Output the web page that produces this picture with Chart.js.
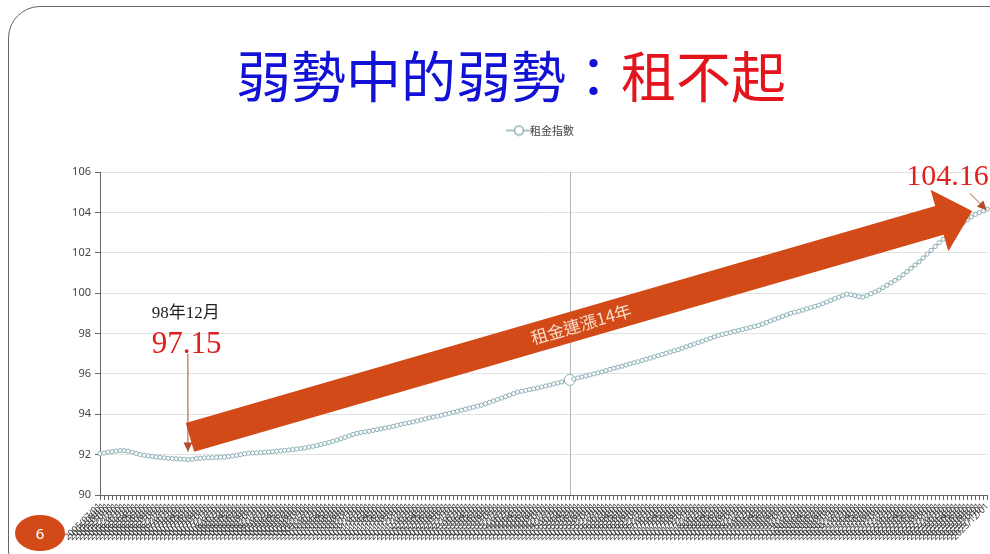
<!DOCTYPE html>
<html>
<head>
<meta charset="utf-8">
<script src="https://cdn.jsdelivr.net/npm/chart.js@4.4.0/dist/chart.umd.min.js"></script>
<style>
  html, body { margin: 0; padding: 0; background: #fff; width: 990px; height: 554px; overflow: hidden; }
  #slide { position: relative; width: 990px; height: 554px; overflow: hidden; }
  #frame { position: absolute; left: 8px; top: 6px; width: 1010px; height: 575px; border: 1px solid #666; border-radius: 32px; }
  #title { position: absolute; left: 236px; top: 42px; font-family: "Noto Sans CJK TC"; font-size: 55px; line-height: 62px; white-space: nowrap; }
  .blue { color: #1212d6; }
  .red { color: #e3141c; }
  #wrap { position: absolute; left: 0; top: 112px; }
  #num { position: absolute; left: 15px; top: 515px; width: 50px; height: 36px; border-radius: 50%; background: #d24a18; color: #fff; font: 15px "Noto Sans"; text-align: center; line-height: 36px; }
</style>
</head>
<body>
<div id="slide">
  <div id="frame"></div>
  <div id="title"><span class="blue">弱勢中的弱勢：</span><span class="red">租不起</span></div>
  <div id="wrap"><canvas id="grafica" width="996" height="442"></canvas></div>
  <div id="num">6</div>
</div>
<script>
// 月份區間 (類別軸)
const firstMonth = [2005, 7];
const lastMonth = [2023, 12];
const meses = [];
for (let y = firstMonth[0], m = firstMonth[1]; y < lastMonth[0] || (y === lastMonth[0] && m <= lastMonth[1]); m++) {
  if (m > 12) { m = 1; y++; }
  meses.push(y + "/" + String(m).padStart(2, "0") + "/01");
}

// 租金指數
const indiceAlquiler = [
  92.05, 92.08, 92.12, 92.15, 92.18, 92.20, 92.20, 92.17, 92.12, 92.06,
  92.00, 91.97, 91.94, 91.91, 91.88, 91.86, 91.84, 91.82, 91.81, 91.79,
  91.78, 91.77, 91.75, 91.77, 91.80, 91.82, 91.84, 91.85, 91.85, 91.86,
  91.87, 91.88, 91.90, 91.93, 91.96, 92.00, 92.04, 92.07, 92.08, 92.09,
  92.10, 92.12, 92.13, 92.15, 92.17, 92.19, 92.21, 92.23, 92.25, 92.28,
  92.30, 92.33, 92.37, 92.41, 92.45, 92.50, 92.55, 92.60, 92.66, 92.72,
  92.79, 92.86, 92.93, 93.00, 93.05, 93.10, 93.13, 93.16, 93.20, 93.24,
  93.28, 93.32, 93.36, 93.40, 93.45, 93.50, 93.54, 93.58, 93.62, 93.67,
  93.72, 93.77, 93.82, 93.86, 93.90, 93.95, 94.00, 94.05, 94.10, 94.15,
  94.20, 94.25, 94.30, 94.35, 94.40, 94.45, 94.52, 94.59, 94.66, 94.73,
  94.80, 94.87, 94.95, 95.02, 95.10, 95.14, 95.18, 95.22, 95.26, 95.30,
  95.35, 95.40, 95.45, 95.50, 95.55, 95.60, 95.65, 95.70, 95.75, 95.80,
  95.85, 95.90, 95.95, 96.00, 96.05, 96.10, 96.16, 96.22, 96.28, 96.33,
  96.38, 96.44, 96.50, 96.55, 96.60, 96.66, 96.72, 96.78, 96.84, 96.90,
  96.96, 97.02, 97.08, 97.14, 97.20, 97.27, 97.34, 97.41, 97.48, 97.55,
  97.62, 97.69, 97.76, 97.83, 97.90, 97.95, 98.00, 98.05, 98.10, 98.15,
  98.20, 98.25, 98.30, 98.35, 98.40, 98.47, 98.55, 98.62, 98.70, 98.77,
  98.85, 98.92, 99.00, 99.05, 99.10, 99.16, 99.22, 99.28, 99.34, 99.40,
  99.48, 99.56, 99.64, 99.72, 99.80, 99.88, 99.95, 99.92, 99.88, 99.83,
  99.80, 99.88, 99.97, 100.06, 100.15, 100.27, 100.39, 100.51, 100.63, 100.75,
  100.91, 101.07, 101.23, 101.39, 101.55, 101.74, 101.93, 102.12, 102.31, 102.50,
  102.67, 102.84, 103.01, 103.18, 103.35, 103.49, 103.63, 103.77, 103.90, 103.99,
  104.08, 104.16
];

const yMin = 90, yMax = 106, yStep = 2;
const pointerIndex = 117;

// 註解 (以類別索引與指數值定位)
const arrowFrom = [22.4, 92.85];
const arrowTo = [217.2, 104.07];
const arrowText = "租金連漲14年";
const notes = [
  { text: "98年12月", at: [12.9, 98.77], font: '17px "Liberation Serif", "Noto Sans CJK TC"', color: "#222" },
  { text: "97.15", at: [12.9, 97.03], font: '31px "Liberation Serif"', color: "#e0201e" },
  { text: "104.16", at: [200.8, 105.35], font: '30px "Liberation Serif"', color: "#e0201e" }
];
const pointers = [
  { from: [21.9, 97.0], to: [21.9, 92.15] },
  { from: [216.6, 104.95], to: [220.8, 104.12] }
];

const lineColor = "#89afb5";

// 圖例圖示: 線 + 空心圓
const legendIcon = document.createElement("canvas");
legendIcon.width = 26; legendIcon.height = 12;
(function () {
  const c = legendIcon.getContext("2d");
  c.strokeStyle = lineColor; c.lineWidth = 1.5;
  c.beginPath(); c.moveTo(0, 6); c.lineTo(26, 6); c.stroke();
  c.fillStyle = "#fff";
  c.beginPath(); c.arc(13, 6, 4.5, 0, Math.PI * 2); c.fill(); c.stroke();
})();

const legendGap = {
  id: "legendGap",
  beforeInit(chart) {
    const fit = chart.legend.fit;
    chart.legend.fit = function () {
      fit.bind(chart.legend)();
      this.height += 26;
    };
  }
};

function drawHead(ctx, x0, y0, x1, y1, size) {
  const a = Math.atan2(y1 - y0, x1 - x0);
  ctx.beginPath();
  ctx.moveTo(x1, y1);
  ctx.lineTo(x1 - size * Math.cos(a) + size * 0.5 * Math.sin(a), y1 - size * Math.sin(a) - size * 0.5 * Math.cos(a));
  ctx.lineTo(x1 - size * Math.cos(a) - size * 0.5 * Math.sin(a), y1 - size * Math.sin(a) + size * 0.5 * Math.cos(a));
  ctx.closePath();
  ctx.fill();
}

const overlay = {
  id: "overlay",
  beforeDatasetsDraw(chart) {
    const { ctx, chartArea: a, scales: { x } } = chart;
    const px = Math.round(x.getPixelForValue(pointerIndex)) + 0.5;
    ctx.save();
    ctx.strokeStyle = "#b5b5b5";
    ctx.lineWidth = 1;
    ctx.beginPath(); ctx.moveTo(px, a.top); ctx.lineTo(px, a.bottom); ctx.stroke();
    ctx.restore();
  },
  afterDatasetsDraw(chart) {
    const { ctx, scales: { x, y } } = chart;
    const P = (p) => [x.getPixelForValue(p[0]), y.getPixelForValue(p[1])];

    // 大箭頭
    const [tx, ty] = P(arrowFrom);
    const [hx, hy] = P(arrowTo);
    const len = Math.hypot(hx - tx, hy - ty);
    ctx.save();
    ctx.translate(tx, ty);
    ctx.rotate(Math.atan2(hy - ty, hx - tx));
    ctx.fillStyle = "#d24a18";
    ctx.beginPath();
    ctx.moveTo(0, -15);
    ctx.lineTo(len - 34, -15);
    ctx.lineTo(len - 34, -32);
    ctx.lineTo(len, 0);
    ctx.lineTo(len - 34, 32);
    ctx.lineTo(len - 34, 15);
    ctx.lineTo(0, 15);
    ctx.closePath();
    ctx.fill();
    ctx.fillStyle = "#f9dccb";
    ctx.font = '17px "Noto Sans CJK TC"';
    ctx.textAlign = "center";
    ctx.textBaseline = "middle";
    ctx.fillText(arrowText, len * 0.5, 0);
    ctx.restore();

    // 細箭頭
    ctx.save();
    ctx.strokeStyle = "#b54a2c";
    ctx.fillStyle = "#b54a2c";
    ctx.lineWidth = 1;
    pointers.forEach((p) => {
      const [x0, y0] = P(p.from);
      const [x1, y1] = P(p.to);
      ctx.beginPath(); ctx.moveTo(x0, y0); ctx.lineTo(x1, y1); ctx.stroke();
      drawHead(ctx, x0, y0, x1, y1, 9);
    });
    ctx.restore();

    // 文字
    ctx.save();
    ctx.textAlign = "left";
    ctx.textBaseline = "alphabetic";
    notes.forEach((n) => {
      const [nx, ny] = P(n.at);
      ctx.font = n.font;
      ctx.fillStyle = n.color;
      ctx.fillText(n.text, nx, ny);
    });
    ctx.restore();
  }
};

const $grafica = document.querySelector("#grafica");

new Chart($grafica, {
  type: "line",
  data: {
    labels: meses,
    datasets: [{
      label: "租金指數",
      data: indiceAlquiler,
      borderColor: lineColor,
      borderWidth: 1.5,
      backgroundColor: "#fff",
      pointBackgroundColor: "#fff",
      pointBorderColor: lineColor,
      pointBorderWidth: 1,
      pointRadius: (c) => (c.dataIndex === pointerIndex ? 5.5 : 2.1),
      tension: 0
    }]
  },
  plugins: [legendGap, overlay],
  options: {
    responsive: false,
    animation: false,
    layout: { padding: { top: 3, right: 0, left: 0, bottom: 0 } },
    scales: {
      x: {
        afterFit: (s) => { s.height = 59; },
        grid: { drawOnChartArea: false, drawTicks: true, tickLength: 5, tickColor: "#666" },
        border: { display: true, color: "#666" },
        ticks: {
          autoSkip: false,
          minRotation: 45,
          maxRotation: 45,
          color: "#3a3a3a",
          padding: 1,
          font: { family: "Noto Sans", size: 9 }
        }
      },
      y: {
        min: yMin,
        max: yMax,
        afterFit: (s) => { s.width = 100; },
        grid: { color: "#e2e2e2", tickColor: "#666", tickLength: 5 },
        border: { display: true, color: "#666" },
        ticks: {
          stepSize: yStep,
          color: "#444",
          padding: 4,
          font: { family: "Noto Sans", size: 11 }
        }
      }
    },
    plugins: {
      legend: {
        display: true,
        fullSize: false,
        labels: {
          usePointStyle: true,
          pointStyle: legendIcon,
          color: "#444",
          padding: 10,
          font: { family: "Noto Sans CJK TC", size: 11 }
        }
      },
      tooltip: { enabled: false }
    }
  }
});
</script>
</body>
</html>
